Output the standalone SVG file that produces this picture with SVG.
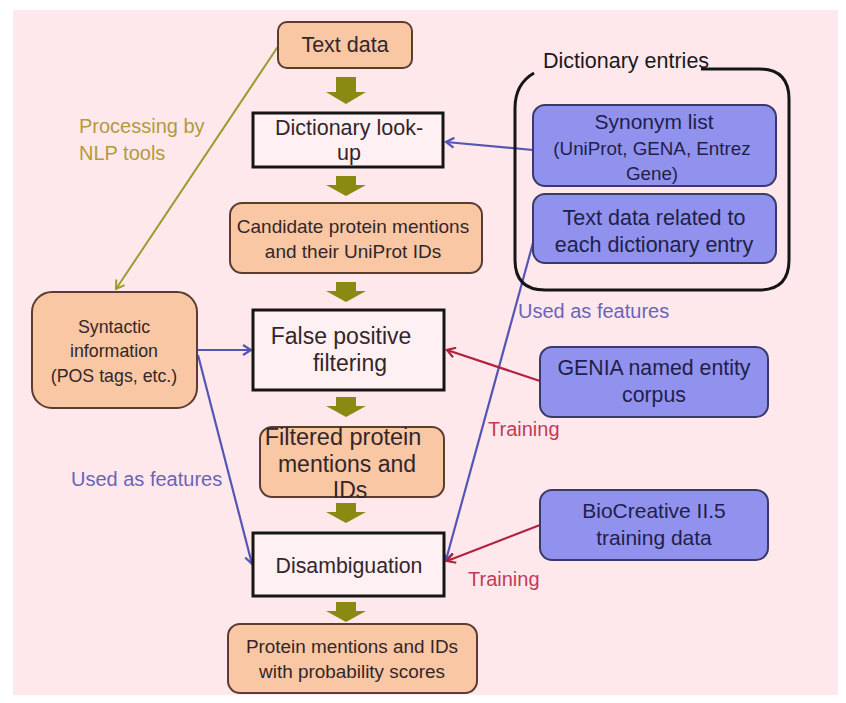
<svg xmlns="http://www.w3.org/2000/svg" width="846" height="703" viewBox="0 0 846 703">
<style>
.t{font-family:"Liberation Sans",Arial,sans-serif;text-anchor:middle;fill:#33262a}
.tp{font-family:"Liberation Sans",Arial,sans-serif;text-anchor:middle;fill:#1f1f48}
.pe{fill:#f9c7a3;stroke:#5a3c30;stroke-width:2}
.pu{fill:#9191ee;stroke:#3a3a6a;stroke-width:2}
.bx{fill:#fff0f3;stroke:#151515;stroke-width:3}
.ol{fill:#8a8a12}
.blue{stroke:#5555b5;stroke-width:2.2;fill:none}
.red{stroke:#b0223e;stroke-width:2.2;fill:none}
.olv{stroke:#9c9c2c;stroke-width:2;fill:none}
.lb{font-family:"Liberation Sans",Arial,sans-serif;font-size:20px}
</style>
<defs>
<marker id="ab" markerWidth="12" markerHeight="12" refX="9" refY="6" orient="auto" markerUnits="userSpaceOnUse"><path d="M1,1 L9,6 L1,11" fill="none" stroke="#5555b5" stroke-width="2.2"/></marker>
<marker id="ar" markerWidth="12" markerHeight="12" refX="9" refY="6" orient="auto" markerUnits="userSpaceOnUse"><path d="M1,1 L9,6 L1,11" fill="none" stroke="#b0223e" stroke-width="2.2"/></marker>
<marker id="ao" markerWidth="12" markerHeight="12" refX="9" refY="6" orient="auto" markerUnits="userSpaceOnUse"><path d="M1,1 L9,6 L1,11" fill="none" stroke="#9c9c2c" stroke-width="2"/></marker>
<path id="blk" d="M-10,0 H10 V15 H20 L0,27 L-20,15 H-10 Z"/>
<path id="blk2" d="M-10,0 H10 V9 H20 L0,20 L-20,9 H-10 Z"/>
</defs>
<rect x="0" y="0" width="846" height="703" fill="#ffffff"/>
<rect x="13" y="10" width="825" height="685" fill="#fee8ec"/>

<g id="connectors">
<line class="olv" x1="281" y1="42" x2="116" y2="289" marker-end="url(#ao)"/>
<line class="blue" x1="533" y1="150" x2="446" y2="142" marker-end="url(#ab)"/>
<line class="blue" x1="197" y1="350" x2="251" y2="350" marker-end="url(#ab)"/>
<line class="blue" x1="198" y1="355" x2="252" y2="564" marker-end="url(#ab)"/>
<line class="blue" x1="536" y1="232" x2="446" y2="560" marker-end="url(#ab)"/>
<line class="red" x1="540" y1="381" x2="447" y2="350" marker-end="url(#ar)"/>
<line class="red" x1="540" y1="525" x2="447" y2="561" marker-end="url(#ar)"/>
<g class="ol">
<use href="#blk" x="346" y="77"/>
<use href="#blk2" x="346" y="176"/>
<use href="#blk2" x="346" y="282"/>
<use href="#blk2" x="346" y="397"/>
<use href="#blk2" x="346" y="503"/>
<use href="#blk2" x="346" y="602"/>
</g>
<text class="lb" x="79" y="133" fill="#b39a3c">Processing by</text>
<text class="lb" x="79" y="160" fill="#b39a3c">NLP tools</text>
<text class="lb" x="518" y="318" fill="#6a64b8">Used as features</text>
<text class="lb" x="71" y="486" fill="#6a64b8">Used as features</text>
<text class="lb" x="488" y="436" fill="#c23a58">Training</text>
<text class="lb" x="468" y="586" fill="#c23a58">Training</text>
</g>

<g id="text-data">
<rect class="pe" x="278" y="22" width="134" height="46" rx="9"/>
<text class="t" x="345" y="52" font-size="21.5">Text data</text>
</g>
<g id="dict-lookup">
<rect class="bx" x="253" y="113" width="190" height="54"/>
<text class="t" x="349" y="135" font-size="21.5">Dictionary look-</text>
<text class="t" x="349" y="160" font-size="21.5">up</text>
</g>
<g id="candidate">
<rect class="pe" x="230" y="203" width="252" height="70" rx="12"/>
<text class="t" x="353" y="233" font-size="19">Candidate protein mentions</text>
<text class="t" x="353" y="258" font-size="19">and their UniProt IDs</text>
</g>
<g id="false-positive">
<rect class="bx" x="253" y="310" width="191" height="80"/>
<text class="t" x="341" y="344" font-size="23">False positive</text>
<text class="t" x="350" y="371" font-size="23">filtering</text>
</g>
<g id="filtered">
<rect class="pe" x="260" y="427" width="184" height="70" rx="12"/>
<text class="t" x="343" y="445" font-size="23.5">Filtered protein</text>
<text class="t" x="347" y="472" font-size="23">mentions and</text>
<text class="t" x="350" y="498" font-size="23">IDs</text>
</g>
<g id="disambiguation">
<rect class="bx" x="253" y="533" width="191" height="63"/>
<text class="t" x="349" y="573" font-size="21.3">Disambiguation</text>
</g>
<g id="output">
<rect class="pe" x="228" y="624" width="249" height="69" rx="12"/>
<text class="t" x="352" y="653" font-size="18.9">Protein mentions and IDs</text>
<text class="t" x="352" y="678" font-size="18.9">with probability scores</text>
</g>
<g id="syntactic">
<rect class="pe" x="32" y="292" width="165" height="116" rx="20"/>
<text class="t" x="114" y="333" font-size="17.8">Syntactic</text>
<text class="t" x="114" y="357" font-size="17.8">information</text>
<text class="t" x="114" y="382" font-size="17.8">(POS tags, etc.)</text>
</g>
<g id="dictionary-entries">
<path d="M701,69 H759 Q789,69 789,99 V260 Q789,290 759,290 H545 Q515,290 515,260 V108 Q515,84 534,73" fill="none" stroke="#151515" stroke-width="3"/>
<text x="543" y="68" font-family="Liberation Sans,Arial,sans-serif" font-size="21.5" fill="#1a1a1a">Dictionary entries</text>
</g>
<g id="synonym">
<rect class="pu" x="533" y="105" width="243" height="81" rx="12"/>
<text class="tp" x="654" y="129" font-size="21">Synonym list</text>
<text class="tp" x="652" y="155" font-size="18.8">(UniProt, GENA, Entrez</text>
<text class="tp" x="652" y="180" font-size="18.8">Gene)</text>
</g>
<g id="text-related">
<rect class="pu" x="533" y="194" width="243" height="69" rx="12"/>
<text class="tp" x="654" y="225" font-size="21.5">Text data related to</text>
<text class="tp" x="654" y="252" font-size="21.5">each dictionary entry</text>
</g>
<g id="genia">
<rect class="pu" x="540" y="347" width="228" height="70" rx="12"/>
<text class="tp" x="654" y="375" font-size="21.3">GENIA named entity</text>
<text class="tp" x="654" y="402" font-size="21.3">corpus</text>
</g>
<g id="biocreative">
<rect class="pu" x="540" y="490" width="228" height="70" rx="12"/>
<text class="tp" x="654" y="518" font-size="21">BioCreative II.5</text>
<text class="tp" x="654" y="545" font-size="21">training data</text>
</g>
</svg>
